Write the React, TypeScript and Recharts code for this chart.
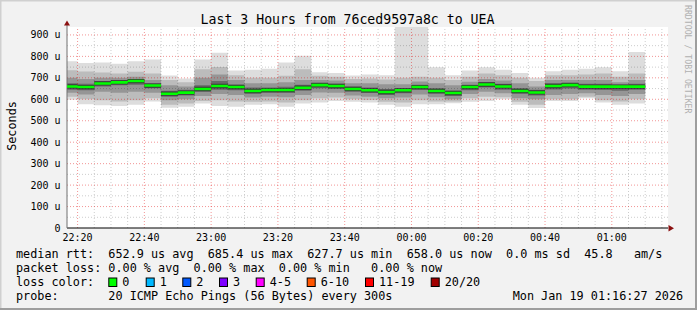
import React from 'react';
import { ComposedChart, Area, XAxis, YAxis, CartesianGrid, ReferenceLine } from 'recharts';

// minutes after 22:00 (block start, 5-minute steps)
const blockStart = [15, 20, 25, 30, 35, 40, 45, 50, 55, 60, 65, 70, 75, 80, 85, 90, 95, 100, 105, 110, 115, 120, 125, 130, 135, 140, 145, 150, 155, 160, 165, 170, 175, 180, 185];
const dataEnd = 190;

// smoke quantiles (microseconds)
const pingMax = [777, 769, 772, 766, 777, 786, 711, 697, 786, 817, 734, 738, 742, 772, 803, 726, 723, 711, 715, 712, 1050, 1050, 749, 712, 734, 749, 738, 723, 700, 731, 738, 742, 749, 731, 820];
const pingHi2 = [735, 730, 725, 720, 728, 720, 690, 680, 740, 750, 712, 700, 700, 710, 740, 710, 705, 695, 697, 692, 700, 705, 700, 690, 705, 720, 712, 700, 685, 712, 712, 715, 720, 705, 720];
const pingHi5 = [700, 695, 700, 700, 705, 690, 665, 660, 700, 715, 690, 675, 675, 680, 690, 690, 688, 675, 675, 670, 670, 683, 675, 665, 682, 695, 688, 675, 660, 690, 690, 690, 690, 680, 690];
const pingHi8 = [675, 672, 685, 690, 694, 675, 640, 645, 665, 685, 670, 655, 655, 658, 668, 678, 673, 660, 655, 648, 652, 668, 652, 642, 668, 680, 672, 652, 645, 675, 678, 672, 672, 668, 672];
const median = [660, 657, 674, 679, 685, 664, 626, 631, 648, 662, 657, 639, 643, 643, 654, 666, 662, 648, 642, 634, 642, 657, 639, 629, 657, 669, 660, 639, 632, 662, 666, 659, 659, 659, 659];
const pingLo8 = [645, 642, 660, 665, 668, 652, 612, 618, 635, 645, 642, 625, 630, 630, 640, 652, 648, 636, 630, 620, 628, 643, 625, 615, 642, 655, 645, 625, 618, 646, 650, 645, 643, 640, 645];
const pingLo5 = [630, 622, 635, 630, 635, 630, 595, 600, 615, 625, 620, 608, 612, 610, 620, 632, 630, 618, 612, 605, 608, 622, 610, 600, 625, 635, 628, 605, 600, 620, 625, 628, 620, 615, 625];
const pingLo2 = [612, 600, 595, 590, 595, 605, 575, 580, 592, 595, 590, 588, 590, 585, 595, 605, 608, 600, 597, 588, 585, 595, 590, 590, 605, 612, 610, 588, 575, 600, 600, 612, 595, 590, 600];
const pingMin = [598, 577, 572, 569, 574, 590, 561, 565, 580, 569, 565, 574, 577, 565, 580, 585, 592, 589, 585, 574, 565, 577, 577, 582, 589, 592, 600, 574, 559, 592, 592, 605, 585, 574, 580];

const yTicks = [0, 100, 200, 300, 400, 500, 600, 700, 800, 900];
const yMinor = [50, 150, 250, 350, 450, 550, 650, 750, 850];
const xMajor = [20, 40, 60, 80, 100, 120, 140, 160, 180];
const xMinor = [25, 30, 35, 45, 50, 55, 65, 70, 75, 85, 90, 95, 105, 110, 115, 125, 130, 135, 145, 150, 155, 165, 170, 175, 185, 190, 195];

const title = 'Last 3 Hours from 76ced9597a8c to UEA';
const legendRtt = 'median rtt:  652.9 us avg  685.4 us max  627.7 us min  658.0 us now  0.0 ms sd  45.8   am/s';
const legendLoss = 'packet loss: 0.00 % avg  0.00 % max  0.00 % min   0.00 % now';
const lossLabels = ['0', '1', '2', '3', '4-5', '6-10', '11-19', '20/20'];
const lossColors = ['#00ff00', '#00b8ff', '#0059ff', '#7e00ff', '#ff00ff', '#ff5500', '#ff0000', '#a10000'];
const lossBoxX = [108.3, 145.7, 182.3, 219, 255.7, 306.7, 365, 430.7];
const probeText = 'probe:       20 ICMP Echo Pings (56 Bytes) every 300s';
const dateText = 'Mon Jan 19 01:16:27 2026';

const rows = blockStart.map((t, i) => ({
  t, max: pingMax[i], hi2: pingHi2[i], hi5: pingHi5[i], hi8: pingHi8[i], med: median[i],
  lo8: pingLo8[i], lo5: pingLo5[i], lo2: pingLo2[i], min: pingMin[i],
}));
const last = rows[rows.length - 1];
const data = [...rows, { ...last, t: dataEnd }];

const FONT = '"DejaVu Sans Mono", monospace';

const fmtTime = (m: number) => {
  const total = (22 * 60 + m) % 1440;
  const h = Math.floor(total / 60);
  const mm = total % 60;
  return `${String(h).padStart(2, '0')}:${String(mm).padStart(2, '0')}`;
};

const YTick = (props: any) => {
  const { y, payload } = props;
  const v = payload.value;
  return (
    <text x={60.5} y={y} dy={3.5} textAnchor="end" fontFamily={FONT} fontSize={10} fill="#000">
      {v === 0 ? '0' : `${v} u`}
    </text>
  );
};

const XTick = (props: any) => {
  const { x, payload } = props;
  return (
    <text x={x} y={240.7} textAnchor="middle" fontFamily={FONT} fontSize={10} fill="#000">
      {fmtTime(payload.value)}
    </text>
  );
};

const bands = [
  { lo: 'min', hi: 'max', color: '#dddddd' },
  { lo: 'lo2', hi: 'hi2', color: '#bcbcbc' },
  { lo: 'lo5', hi: 'hi5', color: '#959595' },
  { lo: 'lo8', hi: 'hi8', color: '#686868' },
];

export default function App() {
  return (
    <div style={{ position: 'absolute', left: 0, top: 0, width: 697, height: 310, background: '#f2f2f2' }}>
      <ComposedChart width={697} height={310} data={data} margin={{ top: 27, right: 29, bottom: 62, left: 0 }}>
        <CartesianGrid horizontal={false} vertical={false} fill="#ffffff" />
        <XAxis
          dataKey="t"
          type="number"
          domain={[16.83, 196.83]}
          allowDataOverflow
          ticks={xMajor}
          tick={<XTick />}
          tickLine={false}
          axisLine={{ stroke: '#000', strokeWidth: 1 }}
          height={20}
          interval={0}
        />
        <YAxis
          type="number"
          domain={[0, 937]}
          allowDataOverflow
          ticks={yTicks}
          tick={<YTick />}
          tickLine={false}
          axisLine={{ stroke: '#707070' }}
          width={67}
          interval={0}
        />
        {bands.map((b) => (
          <Area
            key={b.lo}
            type="stepAfter"
            dataKey={(d: any) => [d[b.lo], d[b.hi]]}
            stroke="none"
            fill={b.color}
            fillOpacity={1}
            isAnimationActive={false}
            dot={false}
            activeDot={false}
          />
        ))}
        <Area
          type="stepAfter"
          dataKey={(d: any) => [d.med - 10, d.med + 10]}
          stroke="none"
          fill="#383838"
          fillOpacity={1}
          isAnimationActive={false}
          dot={false}
          activeDot={false}
        />
        {yMinor.map((v) => (
          <ReferenceLine key={'ym' + v} y={v} stroke="#000000" strokeOpacity={0.2} strokeDasharray="1 2" />
        ))}
        {xMinor.map((v) => (
          <ReferenceLine key={'xm' + v} x={v} stroke="#000000" strokeOpacity={0.2} strokeDasharray="1 2" />
        ))}
        {yTicks.filter((v) => v > 0).map((v) => (
          <ReferenceLine key={'yM' + v} y={v} stroke="#e00000" strokeOpacity={0.42} strokeDasharray="1 2" />
        ))}
        {xMajor.map((v) => (
          <ReferenceLine key={'xM' + v} x={v} stroke="#e00000" strokeOpacity={0.42} strokeDasharray="1 2" />
        ))}
        <Area
          type="stepAfter"
          dataKey={(d: any) => [d.med - 6, d.med + 6]}
          stroke="none"
          fill="#00ff00"
          fillOpacity={1}
          isAnimationActive={false}
          dot={false}
          activeDot={false}
          {...({ zIndex: 3000 } as any)}
        />
      </ComposedChart>
      <svg width={697} height={310} style={{ position: 'absolute', left: 0, top: 0, pointerEvents: 'none' }}>
        <line x1={0} y1={0.5} x2={697} y2={0.5} stroke="#d0d0d0" strokeWidth={2} />
        <line x1={0.5} y1={0} x2={0.5} y2={310} stroke="#d0d0d0" strokeWidth={2} />
        <line x1={0} y1={309} x2={697} y2={309} stroke="#9e9e9e" strokeWidth={2} />
        <line x1={696} y1={0} x2={696} y2={310} stroke="#9e9e9e" strokeWidth={2} />
        <line x1={67} y1={27} x2={67} y2={23} stroke="#707070" />
        <polygon points="64,25.5 70,25.5 67,20.5" fill="#8b1010" />
        <polygon points="668.5,225 668.5,231.5 674,228.3" fill="#8b1010" />
        <text x={347.5} y={24} textAnchor="middle" fontFamily={FONT} fontSize={13.2} fill="#000">{title}</text>
        <text transform="translate(15.5,126) rotate(-90)" textAnchor="middle" fontFamily={FONT} fontSize={11.8} fill="#000">Seconds</text>
        <text transform="translate(685,5) rotate(90)" fontFamily={FONT} fontSize={8.2} fill="#b0b0b0">RRDTOOL / TOBI OETIKER</text>
        <text x={16} y={258.3} fontFamily={FONT} fontSize={11.8} fill="#000" style={{ whiteSpace: 'pre' }}>{legendRtt}</text>
        <text x={16} y={272} fontFamily={FONT} fontSize={11.8} fill="#000" style={{ whiteSpace: 'pre' }}>{legendLoss}</text>
        <text x={16} y={285.8} fontFamily={FONT} fontSize={11.8} fill="#000">loss color:</text>
        {lossLabels.map((l, i) => (
          <g key={l}>
            <rect x={lossBoxX[i] + 0.5} y={278} width={8} height={8.5} fill={lossColors[i]} stroke="#000" strokeWidth={1} />
            <text x={lossBoxX[i] + 14} y={285.8} fontFamily={FONT} fontSize={11.8} fill="#000">{l}</text>
          </g>
        ))}
        <text x={16} y={299.7} fontFamily={FONT} fontSize={11.8} fill="#000" style={{ whiteSpace: 'pre' }}>{probeText}</text>
        <text x={512.7} y={299.7} fontFamily={FONT} fontSize={11.8} fill="#000">{dateText}</text>
      </svg>
    </div>
  );
}
